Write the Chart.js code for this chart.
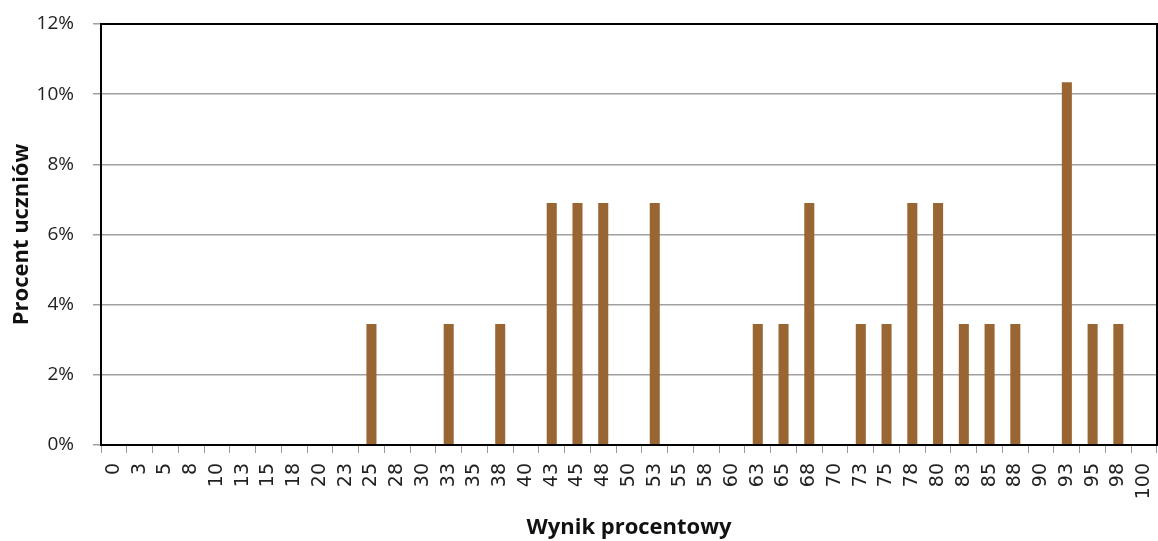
<!DOCTYPE html>
<html>
<head>
<meta charset="utf-8">
<script src="https://cdn.jsdelivr.net/npm/chart.js@4/dist/chart.umd.min.js"></script>
<style>
  html, body { margin: 0; padding: 0; background: #fff; }
  #wrap { width: 1158px; height: 541px; }
</style>
</head>
<body>
<div id="wrap"><canvas id="histChart"></canvas></div>
<script>
// ── Data ─────────────────────────────────────
const scores = ['0','3','5','8','10','13','15','18','20','23','25','28','30','33','35','38','40',
                '43','45','48','50','53','55','58','60','63','65','68','70','73','75','78','80',
                '83','85','88','90','93','95','98','100'];
const percentStudents = [0,0,0,0,0,0,0,0,0,0,3.45,0,0,3.45,0,3.45,0,
                         6.9,6.9,6.9,0,6.9,0,0,0,3.45,3.45,6.9,0,3.45,3.45,6.9,6.9,
                         3.45,3.45,3.45,0,10.34,3.45,3.45,0];
const yTicks = [0, 2, 4, 6, 8, 10, 12];

// ── Frame plugin (top/right border) ──────────
const framePlugin = {
    id: 'frame',
    afterDatasetsDraw(chart) {
        const { ctx, chartArea: a } = chart;
        ctx.save();
        ctx.strokeStyle = '#000';
        ctx.lineWidth = 2;
        ctx.strokeRect(a.left, a.top, a.right - a.left, a.bottom - a.top);
        ctx.restore();
    }
};

new Chart(document.getElementById('histChart'), {
    type: 'bar',
    data: {
        labels: scores,
        datasets: [{
            data: percentStudents,
            backgroundColor: '#996633',
            categoryPercentage: 0.39,
            barPercentage: 1.0
        }]
    },
    options: {
        responsive: true,
        maintainAspectRatio: false,
        animation: false,
        layout: { padding: { top: 24, right: 1, left: 9, bottom: 0 } },
        plugins: { legend: { display: false }, tooltip: { enabled: false } },
        scales: {
            x: {
                afterFit: (s) => { s.height = 96; s.paddingLeft = 0; s.paddingRight = 0; },
                grid: { drawOnChartArea: false, drawTicks: true, tickLength: 8, color: '#999', offset: true },
                border: { color: '#000', width: 2 },
                ticks: {
                    minRotation: 90, maxRotation: 90, autoSkip: false,
                    color: '#222', padding: 10,
                    font: { family: "'DejaVu Sans', sans-serif", size: 19 }
                },
                title: {
                    display: true, text: 'Wynik procentowy', color: '#111',
                    padding: { top: 4, bottom: 0 },
                    font: { family: "'Open Sans', sans-serif", size: 22, weight: 'bold' }
                }
            },
            y: {
                min: 0, max: 12,
                afterBuildTicks: (s) => { s.ticks = yTicks.map(v => ({ value: v })); },
                afterFit: (s) => { s.width = 92; s.paddingTop = 0; s.paddingBottom = 0; },
                grid: { color: '#a0a0a0', lineWidth: 1.5, tickLength: 8 },
                border: { color: '#000', width: 2 },
                ticks: {
                    callback: v => v + '%', color: '#222', padding: 19,
                    font: { family: "'Open Sans', sans-serif", size: 19 }
                },
                title: {
                    display: true, text: 'Procent uczniów', color: '#111',
                    padding: { top: 0, bottom: 4 },
                    font: { family: "'Open Sans', sans-serif", size: 22, weight: 'bold' }
                }
            }
        }
    },
    plugins: [framePlugin]
});
</script>
</body>
</html>
